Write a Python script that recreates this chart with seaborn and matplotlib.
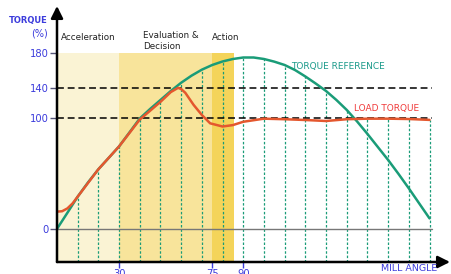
import numpy as np
import pandas as pd
import seaborn as sns
import matplotlib
matplotlib.use('Agg')
import matplotlib.pyplot as plt

# torque reference (green curve), read every 5 deg of mill angle
ref_angle = list(range(0, 185, 5))
ref_torque = [0, 14.5, 29.2, 42.1, 54, 64.3, 74.7, 87.3, 100, 112.6, 124.5, 136.4, 146.3, 154.3,
              161.1, 166.4, 170.4, 173.2, 174.9, 174.9, 173.2, 170.2, 166.4, 160.7, 153.4, 145.4,
              136.4, 124.5, 111.3, 97.3, 86, 74.2, 62.4, 49.8, 36.7, 23.1, 9.5]

# load torque (red curve)
load_angle = [0, 2.5, 5, 7.5, 10, 20, 30, 40, 50, 55, 58.5, 60, 62, 66, 70, 74, 80, 85, 90,
              100, 110, 120, 130, 140, 150, 160, 170, 180]
load_torque = [15.6, 16, 18.5, 23, 29.2, 54, 74.7, 99, 122, 135, 140.5, 139, 134, 118, 104.6, 95.6, 92.7, 94, 97,
               99.8, 99.3, 98.6, 97.7, 99.3, 99.8, 99.8, 99.5, 98.7]

# dotted marker lines every 10 deg
marker_angle = [10, 20, 30, 40, 50, 60, 70, 80, 90, 100, 110, 120, 130, 140, 150, 160, 170, 180]

# control phases
phase_names = ['Acceleration', 'Evaluation &\nDecision', 'Action']
phase_start = [0, 30, 75]
phase_end = [30, 75, 85.5]
phase_colors = ['#faf3d4', '#f8e49b', '#f4d45a']
phase_top = 180

dashed_levels = [100, 140]
y_ticks = [0, 100, 140, 180]
x_ticks = [30, 75, 90]

BLUE = '#3c3cdc'
GREEN = '#1a9c78'
RED = '#e4572e'

# the torque axis of the original is drawn schematically (not linear)
V = [-1000, 0, 100, 140, 180, 2000]
H = [-1105, 0, 110.5, 140.7, 176, 176 + 1820 * 0.8825]
fwd = lambda v: np.interp(v, V, H)
inv = lambda h: np.interp(h, H, V)

sns.set_style('white')
plt.rcParams['font.family'] = ['DejaVu Sans']

fig = plt.figure(figsize=(4.51, 2.74), dpi=100)
ax = fig.add_axes([57 / 451, 12 / 274, 393 / 451, 256 / 274])
ax.set_yscale('function', functions=(fwd, inv))
ax.set_xlim(0, 189.9)
ax.set_ylim(-30, 233.3)

for s, e, c in zip(phase_start, phase_end, phase_colors):
    ax.fill_between([s, e], -30, phase_top, color=c, lw=0, zorder=0)

ref = pd.DataFrame({'angle': ref_angle, 'torque': ref_torque})
load = pd.DataFrame({'angle': load_angle, 'torque': load_torque})

tops = np.maximum(ref.set_index('angle').loc[marker_angle, 'torque'].values,
                  load.set_index('angle').loc[marker_angle, 'torque'].values)
ax.vlines(marker_angle, -30, tops, colors=GREEN, linestyles=(0, (2, 1.5)), lw=0.9, zorder=1)

x_end = 181.2
ax.plot([0, x_end], [0, 0], color='#777777', lw=1, zorder=2)
for lv in dashed_levels:
    ax.plot([0, x_end], [lv, lv], color='black', lw=1.1, ls=(0, (4.5, 2.5)), zorder=2)

sns.lineplot(data=ref, x='angle', y='torque', ax=ax, color=GREEN, lw=1.8, zorder=3)
sns.lineplot(data=load, x='angle', y='torque', ax=ax, color=RED, lw=1.8, zorder=4)

for side in ['top', 'right', 'left', 'bottom']:
    ax.spines[side].set_visible(False)
arrow = dict(arrowstyle='-|>,head_length=0.4,head_width=0.2', mutation_scale=18,
             lw=1.8, color='black', shrinkA=0, shrinkB=0)
ax.annotate('', xy=(0, 1), xytext=(0, 0), xycoords='axes fraction',
            arrowprops=arrow, annotation_clip=False, zorder=6)
ax.annotate('', xy=(1, 0), xytext=(0, 0), xycoords='axes fraction',
            arrowprops=arrow, annotation_clip=False, zorder=6)

ax.set_yticks(y_ticks)
ax.set_yticklabels([str(t) for t in y_ticks])
ax.set_xticks(x_ticks)
ax.set_xticklabels([str(t) for t in x_ticks])
ax.yaxis.set_minor_locator(matplotlib.ticker.NullLocator())
ax.tick_params(axis='y', left=True, length=5, width=1, color='#555577', pad=1,
               labelsize=7.2, labelcolor=BLUE)
ax.tick_params(axis='x', bottom=True, length=4.3, width=1, color=BLUE, pad=0.5,
               labelsize=7.2, labelcolor=BLUE)
ax.set_xlabel('')
ax.set_ylabel('')

def ftext(x, y, s, **kw):
    fig.text(x / 451, 1 - y / 274, s, **kw)

ftext(48, 20, 'TORQUE', ha='right', va='center', fontsize=6, color=BLUE, fontweight='bold')
ftext(48, 33, '(%)', ha='right', va='center', fontsize=7, color=BLUE)

ftext(61, 37, phase_names[0], ha='left', va='center', fontsize=6.3, color='#222222')
ftext(143, 31, phase_names[1], ha='left', va='top', fontsize=6.3, color='#222222', linespacing=1.25)
ftext(212, 37, phase_names[2], ha='left', va='center', fontsize=6.3, color='#222222')

ftext(291, 66, 'TORQUE REFERENCE', ha='left', va='center', fontsize=6.5, color='#1a9a8a')
ftext(354, 109, 'LOAD TORQUE', ha='left', va='center', fontsize=6.5, color='#f03a3a')
ftext(381, 268.5, 'MILL ANGLE', ha='left', va='center', fontsize=6.8, color=BLUE)

fig.savefig('out.png', dpi=100)
